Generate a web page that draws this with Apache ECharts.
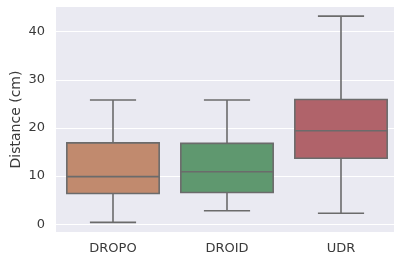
<!DOCTYPE html>
<html>
<head>
<meta charset="utf-8">
<script src="https://cdn.jsdelivr.net/npm/echarts@6/dist/echarts.min.js"></script>
<style>html,body{margin:0;padding:0;background:#fff}#c{width:394px;height:257px}</style>
</head>
<body>
<div id="c"></div>
<script>
const categories = ['DROPO', 'DROID', 'UDR'];
const whiskerLow = [0.4, 2.8, 2.3];
const q1 = [6.4, 6.6, 13.7];
const median = [9.9, 10.9, 19.4];
const q3 = [16.9, 16.8, 25.9];
const whiskerHigh = [25.8, 25.8, 43.2];
const yTicks = [0, 10, 20, 30, 40];

const palette = ['#C18A6E', '#5F986F', '#B0636A'];
const lineColor = '#6b6b6b';

const boxData = categories.map((c, i) => [i, whiskerLow[i], q1[i], median[i], q3[i], whiskerHigh[i]]);

const chart = echarts.init(document.getElementById('c'), null, {renderer: 'canvas'});
chart.setOption({
  animation: false,
  backgroundColor: '#ffffff',
  textStyle: {fontFamily: 'DejaVu Sans'},
  grid: {left: 56, top: 7, width: 342, height: 225, show: true, backgroundColor: '#EAEAF2', borderWidth: 0,
         containLabel: false, outerBoundsMode: 'none'},
  xAxis: {
    type: 'category',
    data: categories,
    axisLine: {show: false},
    axisTick: {show: false},
    splitLine: {show: false},
    axisLabel: {color: '#3a3a3a', fontSize: 13, margin: 10, fontFamily: 'DejaVu Sans'}
  },
  yAxis: {
    type: 'value',
    min: -1.6,
    max: 45.1,
    splitNumber: 5,
    name: 'Distance (cm)',
    nameLocation: 'middle',
    nameGap: 33,
    nameMoveOverlap: false,
    nameTextStyle: {color: '#3a3a3a', fontSize: 14, fontFamily: 'DejaVu Sans'},
    axisLine: {show: false},
    axisTick: {show: false},
    axisLabel: {
      color: '#3a3a3a', fontSize: 13, margin: 11, fontFamily: 'DejaVu Sans',
      showMinLabel: false, showMaxLabel: false,
      formatter: v => (yTicks.indexOf(v) >= 0 ? String(v) : '')
    },
    splitLine: {show: true, showMinLine: false, showMaxLine: false, lineStyle: {color: '#ffffff', width: 1.2}}
  },
  series: [{
    type: 'custom',
    data: boxData,
    encode: {x: 0, y: [1, 2, 3, 4, 5]},
    renderItem: function (params, api) {
      const x = api.value(0);
      const pLo = api.coord([x, api.value(1)]);
      const pQ1 = api.coord([x, api.value(2)]);
      const pMed = api.coord([x, api.value(3)]);
      const pQ3 = api.coord([x, api.value(4)]);
      const pHi = api.coord([x, api.value(5)]);
      const bandW = api.size([1, 0])[0];
      const bw = bandW * 0.81;
      const cw = bw / 2;
      const cx = pMed[0];
      const ls = {stroke: lineColor, lineWidth: 1.6};
      return {
        type: 'group',
        children: [
          {type: 'line', shape: {x1: cx, y1: pHi[1], x2: cx, y2: pQ3[1]}, style: ls},
          {type: 'line', shape: {x1: cx, y1: pQ1[1], x2: cx, y2: pLo[1]}, style: ls},
          {type: 'line', shape: {x1: cx - cw / 2, y1: pHi[1], x2: cx + cw / 2, y2: pHi[1]}, style: ls},
          {type: 'line', shape: {x1: cx - cw / 2, y1: pLo[1], x2: cx + cw / 2, y2: pLo[1]}, style: ls},
          {type: 'rect', shape: {x: cx - bw / 2, y: pQ3[1], width: bw, height: pQ1[1] - pQ3[1]},
           style: {fill: palette[params.dataIndex], stroke: lineColor, lineWidth: 1.6}},
          {type: 'line', shape: {x1: cx - bw / 2, y1: pMed[1], x2: cx + bw / 2, y2: pMed[1]}, style: ls}
        ]
      };
    }
  }]
});
</script>
</body>
</html>
